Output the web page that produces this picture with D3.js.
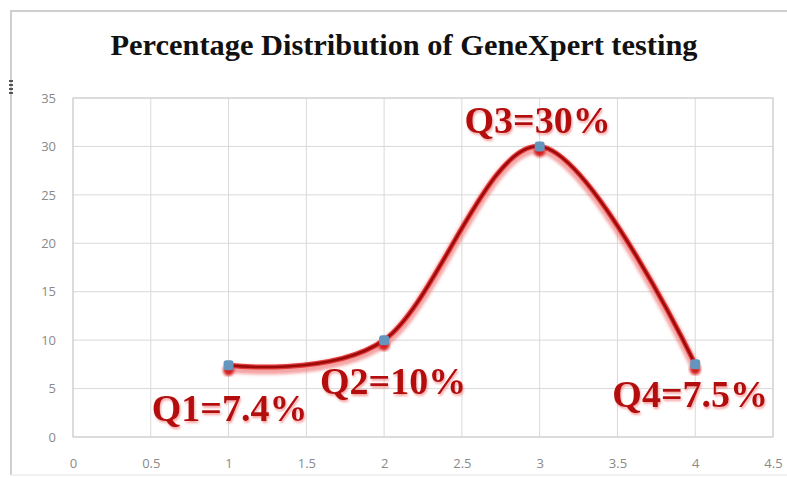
<!DOCTYPE html>
<html>
<head>
<meta charset="utf-8">
<script src="https://cdn.jsdelivr.net/npm/d3@7"></script>
<style>
  body { margin: 0; background: #fff; }
  #vis { width: 787px; height: 478px; }
</style>
</head>
<body>
<div id="vis"></div>
<script>
// data
const quarters = [1, 2, 3, 4]
const percents = [7.4, 10, 30, 7.5]
const labels = ['Q1=7.4%', 'Q2=10%', 'Q3=30%', 'Q4=7.5%']
const xTicks = [0, 0.5, 1, 1.5, 2, 2.5, 3, 3.5, 4, 4.5]
const yTicks = [0, 5, 10, 15, 20, 25, 30, 35]
const title = 'Percentage Distribution of GeneXpert testing'

////////////////////////////////////////
////////////// Setup ///////////////////
////////////////////////////////////////

const W = 787, H = 478
const margin = { top: 98, right: 14, bottom: 41, left: 73 }
const width = W - margin.left - margin.right
const height = H - margin.top - margin.bottom

const data = quarters.map((q, i) => ({ x: q, y: percents[i], label: labels[i] }))

const svg = d3.select('#vis').append('svg')
    .attr('width', W)
    .attr('height', H)

const defs = svg.append('defs')
defs.append('filter').attr('id', 'blur')
    .attr('x', '-10%').attr('y', '-10%').attr('width', '120%').attr('height', '120%')
    .append('feGaussianBlur').attr('stdDeviation', 1.6)
defs.append('filter').attr('id', 'tshadow')
    .attr('x', '-5%').attr('y', '-20%').attr('width', '110%').attr('height', '140%')
    .append('feDropShadow')
    .attr('dx', 1).attr('dy', 2)
    .attr('stdDeviation', 1.3)
    .attr('flood-color', '#f06060')
    .attr('flood-opacity', 0.6)

// outer frame of the screenshot
svg.append('path')
    .attr('d', `M11,${H - 3} L11,11 L${W},11`)
    .attr('fill', 'none')
    .attr('stroke', '#cfcfcf')
    .attr('stroke-width', 2)
svg.append('line')
    .attr('x1', 11).attr('x2', W)
    .attr('y1', H - 3).attr('y2', H - 3)
    .attr('stroke', '#e4e4e4')

// little dotted handle on the left border
svg.selectAll('.handle')
    .data([80, 84, 88, 92])
    .join('rect')
    .attr('x', 9).attr('y', d => d)
    .attr('width', 4).attr('height', 2)
    .attr('fill', '#555')

svg.append('text')
    .attr('x', 404)
    .attr('y', 55)
    .attr('text-anchor', 'middle')
    .attr('font-family', '"Liberation Serif", "Times New Roman", serif')
    .attr('font-weight', 'bold')
    .attr('font-size', 30)
    .attr('fill', '#111')
    .attr('textLength', 587)
    .attr('lengthAdjust', 'spacingAndGlyphs')
    .text(title)

const g = svg.append('g')
    .attr('transform', `translate(${margin.left},${margin.top})`)

////////////////////////////////////////
////////////// Scales //////////////////
////////////////////////////////////////

const xScale = d3.scaleLinear().domain([0, 4.5]).range([0, width])
const yScale = d3.scaleLinear().domain([0, 35]).range([height, 0])

// grid
g.selectAll('.vgrid')
    .data(xTicks)
    .join('line')
    .attr('x1', d => xScale(d)).attr('x2', d => xScale(d))
    .attr('y1', 0).attr('y2', height)
    .attr('stroke', '#d9d9d9')
g.selectAll('.hgrid')
    .data(yTicks)
    .join('line')
    .attr('x1', 0).attr('x2', width)
    .attr('y1', d => yScale(d)).attr('y2', d => yScale(d))
    .attr('stroke', '#d9d9d9')
g.append('rect')
    .attr('width', width).attr('height', height)
    .attr('fill', 'none')
    .attr('stroke', '#cccccc')

// axes (labels only)
const xAxis = g.append('g')
    .attr('transform', `translate(0,${height})`)
    .call(d3.axisBottom(xScale).tickValues(xTicks).tickSize(0).tickPadding(22).tickFormat(d3.format('')))
const yAxis = g.append('g')
    .call(d3.axisLeft(yScale).tickValues(yTicks).tickSize(0).tickPadding(17))
for (const ax of [xAxis, yAxis]) {
    ax.select('.domain').remove()
    ax.selectAll('text')
        .attr('font-family', '"Open Sans", "DejaVu Sans", sans-serif')
        .attr('font-size', 13)
        .attr('fill', '#8a8a8a')
}

////////////////////////////////////////
////////////// Series //////////////////
////////////////////////////////////////

const line = d3.line()
    .x(d => xScale(d.x))
    .y(d => yScale(d.y))
    .curve(d3.curveCardinal.tension(0))

// soft red glow / shadow under the line
g.append('path')
    .datum(data)
    .attr('d', line)
    .attr('transform', 'translate(0,3)')
    .attr('fill', 'none')
    .attr('stroke', '#ec5a5a')
    .attr('stroke-opacity', 0.55)
    .attr('stroke-width', 9)
    .attr('filter', 'url(#blur)')
g.append('path')
    .datum(data)
    .attr('d', line)
    .attr('fill', 'none')
    .attr('stroke', '#e23a3a')
    .attr('stroke-width', 5)
g.append('path')
    .datum(data)
    .attr('d', line)
    .attr('fill', 'none')
    .attr('stroke', '#9c0a0a')
    .attr('stroke-width', 2.5)

// markers with red shadow
g.selectAll('.mshadow')
    .data(data)
    .join('circle')
    .attr('cx', d => xScale(d.x))
    .attr('cy', d => yScale(d.y) + 5)
    .attr('r', 5.5)
    .attr('fill', '#d81b1b')
    .attr('filter', 'url(#blur)')
g.selectAll('.marker')
    .data(data)
    .join('rect')
    .attr('x', d => xScale(d.x) - 5)
    .attr('y', d => yScale(d.y) - 5)
    .attr('width', 10).attr('height', 10)
    .attr('rx', 3)
    .attr('fill', '#6496bd')

// data labels
const labelOffset = [[1, 56], [9, 54], [-2, -13], [-5, 43]]
g.selectAll('.label')
    .data(data)
    .join('text')
    .attr('x', (d, i) => xScale(d.x) + labelOffset[i][0])
    .attr('y', (d, i) => yScale(d.y) + labelOffset[i][1])
    .attr('text-anchor', 'middle')
    .attr('font-family', '"Liberation Serif", "Times New Roman", serif')
    .attr('font-weight', 'bold')
    .attr('font-size', 38)
    .attr('fill', '#b30d0d')
    .attr('filter', 'url(#tshadow)')
    .text(d => d.label)
</script>
</body>
</html>
